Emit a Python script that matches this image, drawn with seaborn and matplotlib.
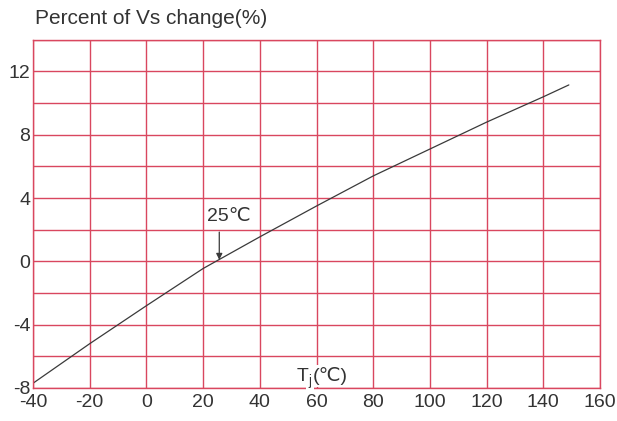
import matplotlib
matplotlib.use("Agg")
import matplotlib.pyplot as plt
import seaborn as sns

# values
temp_c = [-40, -20, 0, 20, 40, 60, 80, 100, 120, 140, 149]
vs_change = [-7.7, -5.2, -2.8, -0.45, 1.55, 3.5, 5.4, 7.1, 8.8, 10.4, 11.15]
x_ticks = [-40, -20, 0, 20, 40, 60, 80, 100, 120, 140, 160]
y_grid = list(range(-8, 15, 2))
y_labels = [-8, -4, 0, 4, 8, 12]

sns.set_style("white")
plt.rcParams['font.family'] = ['Liberation Sans', 'DejaVu Sans']
plt.rcParams['axes.unicode_minus'] = False

grid_col = "#d9475f"
text_col = "#333333"

fig = plt.figure(figsize=(6.17, 4.21), dpi=100)
ax = fig.add_axes([0.0535, 0.0784, 0.919, 0.827])

sns.lineplot(x=temp_c, y=vs_change, ax=ax, color="#3a3a3a", linewidth=0.9)

ax.set_xlim(-40, 160)
ax.set_ylim(-8, 14)
ax.set_xticks(x_ticks)
ax.set_yticks(y_grid)
ax.set_yticklabels([str(v) if v in y_labels else "" for v in y_grid])
ax.grid(True, color=grid_col, linewidth=1.0)
ax.tick_params(axis='both', length=0, labelsize=14, labelcolor=text_col)
ax.tick_params(axis='x', pad=4)
ax.tick_params(axis='y', pad=2)
for s in ax.spines.values():
    s.set_color(grid_col)
    s.set_linewidth(1.0)

fig.text(0.057, 0.957, "Percent of Vs change(%)", fontsize=15, color=text_col,
         ha="left", va="center")

# x axis name inside the plot: T, subscript j, (℃) on a white patch
box = dict(facecolor="white", edgecolor="none", pad=1.5)
ax.text(57.0, -7.25, "T", fontsize=14, color=text_col, ha="right", va="center",
        bbox=box, zorder=3)
ax.annotate("j", xy=(57.0, -7.25), xytext=(0.3, -3.5), textcoords="offset points",
            fontsize=10, color=text_col, ha="left", va="center", bbox=box, zorder=3)
ax.annotate("(℃)", xy=(57.0, -7.25), xytext=(3.5, 0), textcoords="offset points",
            fontsize=14, color=text_col, ha="left", va="center", bbox=box, zorder=3)

ax.text(28.9, 2.85, "25℃", fontsize=14, color=text_col, ha="center", va="center")
ax.annotate("", xy=(25.7, 0.1), xytext=(25.7, 1.85),
            arrowprops=dict(arrowstyle="-|>", color="#3a3a3a", lw=0.9,
                            mutation_scale=9, shrinkA=0, shrinkB=0))

fig.savefig("out.png", dpi=100, facecolor="white")
